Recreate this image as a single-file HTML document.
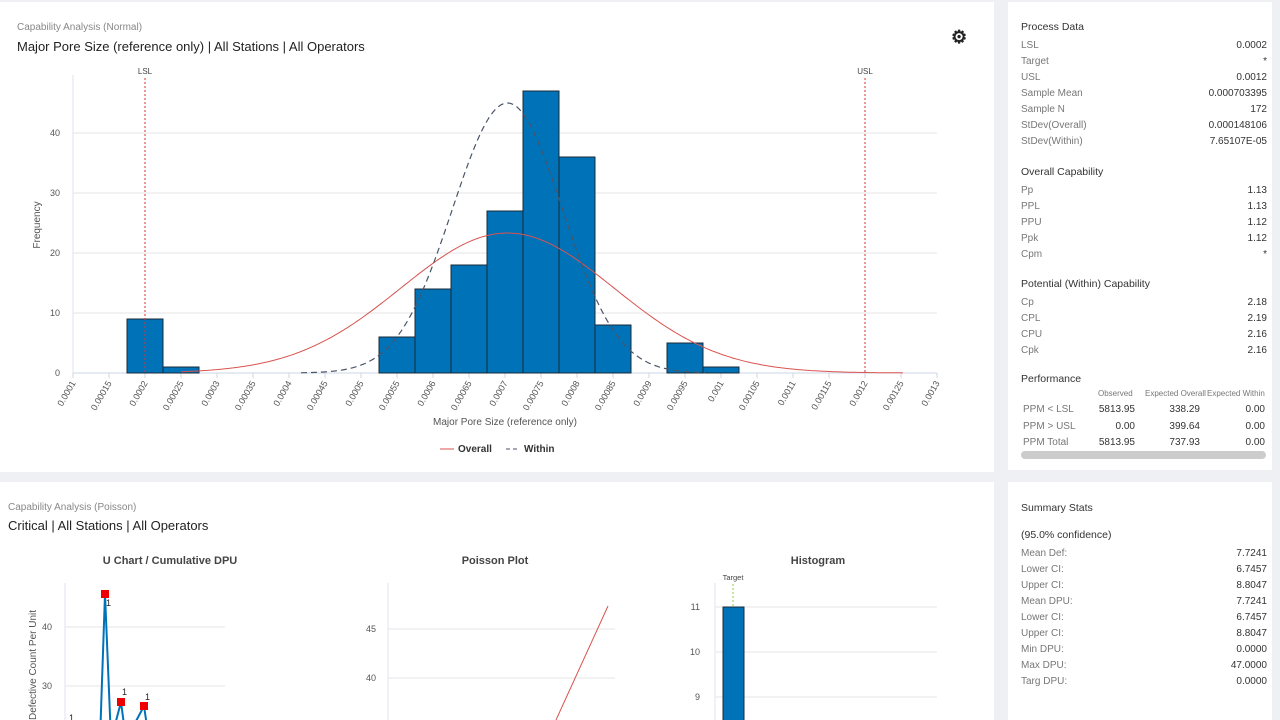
<!DOCTYPE html>
<html><head><meta charset="utf-8">
<style>
body{margin:0;width:1280px;height:720px;overflow:hidden;background:#eef0f3;font-family:"Liberation Sans",sans-serif;position:relative}
.card{position:absolute;background:#fff}
.sub{position:absolute;font-size:10px;color:#888}
.ttl{position:absolute;font-size:13px;color:#222}
.side{font-size:10px;color:#777}
.row{display:flex;justify-content:space-between;height:16px;line-height:16px}
.row b{font-weight:normal;color:#333}
.hd{color:#333;font-size:10.5px;margin:16px 0 5px}
</style></head><body>
<div class="card" style="left:0;top:2px;width:994px;height:470px"></div>
<div class="card" style="left:1008px;top:2px;width:264px;height:468px"></div>
<div class="card" style="left:0;top:482px;width:994px;height:238px"></div>
<div class="card" style="left:1008px;top:482px;width:264px;height:238px"></div>

<div class="sub" style="left:17px;top:22px">Capability Analysis (Normal)</div>
<div class="ttl" style="left:17px;top:39px">Major Pore Size (reference only) | All Stations | All Operators</div>
<div style="position:absolute;left:951px;top:28px;font-size:18px;color:#222;line-height:18px;font-weight:bold">⚙</div>

<div class="sub" style="left:8px;top:502px">Capability Analysis (Poisson)</div>
<div class="ttl" style="left:8px;top:518px">Critical | All Stations | All Operators</div>

<svg id="s" width="1280" height="720" style="position:absolute;left:0;top:0" font-family="Liberation Sans, sans-serif"></svg>

<div class="side" style="position:absolute;left:1021px;top:21px;width:246px">
<div class="hd" style="margin-top:0">Process Data</div>
<div class="row">LSL<b>0.0002</b></div>
<div class="row">Target<b>*</b></div>
<div class="row">USL<b>0.0012</b></div>
<div class="row">Sample Mean<b>0.000703395</b></div>
<div class="row">Sample N<b>172</b></div>
<div class="row">StDev(Overall)<b>0.000148106</b></div>
<div class="row">StDev(Within)<b>7.65107E-05</b></div>
<div class="hd">Overall Capability</div>
<div class="row">Pp<b>1.13</b></div>
<div class="row">PPL<b>1.13</b></div>
<div class="row">PPU<b>1.12</b></div>
<div class="row">Ppk<b>1.12</b></div>
<div class="row">Cpm<b>*</b></div>
<div class="hd" style="margin-top:15px">Potential (Within) Capability</div>
<div class="row">Cp<b>2.18</b></div>
<div class="row">CPL<b>2.19</b></div>
<div class="row">CPU<b>2.16</b></div>
<div class="row">Cpk<b>2.16</b></div>
<div class="hd" style="margin-top:14px;margin-bottom:4px">Performance</div>
<div style="position:relative;height:64px;font-size:8px;white-space:nowrap">
<span style="position:absolute;left:77px;top:0">Observed</span>
<span style="position:absolute;left:124px;top:0">Expected Overall</span>
<span style="position:absolute;left:186px;top:0">Expected Within</span>
<div style="position:absolute;top:15px;left:2px;width:242px;font-size:10px">
<div style="position:relative;height:16.5px">PPM &lt; LSL<b style="position:absolute;right:130px;font-weight:normal;color:#333">5813.95</b><b style="position:absolute;right:65px;font-weight:normal;color:#333">338.29</b><b style="position:absolute;right:0;font-weight:normal;color:#333">0.00</b></div>
<div style="position:relative;height:16.5px">PPM &gt; USL<b style="position:absolute;right:130px;font-weight:normal;color:#333">0.00</b><b style="position:absolute;right:65px;font-weight:normal;color:#333">399.64</b><b style="position:absolute;right:0;font-weight:normal;color:#333">0.00</b></div>
<div style="position:relative;height:16.5px">PPM Total<b style="position:absolute;right:130px;font-weight:normal;color:#333">5813.95</b><b style="position:absolute;right:65px;font-weight:normal;color:#333">737.93</b><b style="position:absolute;right:0;font-weight:normal;color:#333">0.00</b></div>
</div></div>
<div style="height:8px;background:#ccc;border-radius:4px;width:245px;margin-top:-2px"></div>
</div>

<div class="side" style="position:absolute;left:1021px;top:502px;width:246px">
<div class="hd" style="margin-top:0">Summary Stats</div>
<div class="hd" style="margin-top:15px">(95.0% confidence)</div>
<div class="row">Mean Def:<b>7.7241</b></div>
<div class="row">Lower CI:<b>6.7457</b></div>
<div class="row">Upper CI:<b>8.8047</b></div>
<div class="row">Mean DPU:<b>7.7241</b></div>
<div class="row">Lower CI:<b>6.7457</b></div>
<div class="row">Upper CI:<b>8.8047</b></div>
<div class="row">Min DPU:<b>0.0000</b></div>
<div class="row">Max DPU:<b>47.0000</b></div>
<div class="row">Targ DPU:<b>0.0000</b></div>
</div>

<script>
var s=document.getElementById('s'),h='';
function X(v){return 73+(v-0.0001)/0.00005*36}
function Y(c){return 373-c*6}
[10,20,30,40].forEach(function(c){h+='<line x1="73" x2="937" y1="'+Y(c)+'" y2="'+Y(c)+'" stroke="#e6e6e6"/>';});
[0,10,20,30,40].forEach(function(c){h+='<text x="60" y="'+(Y(c)+3)+'" font-size="9" fill="#555" text-anchor="end">'+c+'</text>';});
h+='<line x1="73" x2="73" y1="75" y2="373" stroke="#dde3ee"/>';
h+='<line x1="73" x2="937" y1="373" y2="373" stroke="#cdd5e6"/>';
var labs=['0.0001','0.00015','0.0002','0.00025','0.0003','0.00035','0.0004','0.00045','0.0005','0.00055','0.0006','0.00065','0.0007','0.00075','0.0008','0.00085','0.0009','0.00095','0.001','0.00105','0.0011','0.00115','0.0012','0.00125','0.0013'];
labs.forEach(function(l,i){var x=73+i*36;h+='<line x1="'+x+'" x2="'+x+'" y1="373" y2="378" stroke="#cdd5e6"/><text transform="translate('+(x+3)+',383) rotate(-60)" font-size="9" fill="#555" text-anchor="end">'+l+'</text>';});
var bars=[[0.0002,9],[0.00025,1],[0.00055,6],[0.0006,14],[0.00065,18],[0.0007,27],[0.00075,47],[0.0008,36],[0.00085,8],[0.00095,5],[0.001,1]];
bars.forEach(function(b){var x=X(b[0])-18;h+='<rect x="'+x+'" y="'+Y(b[1])+'" width="36" height="'+(b[1]*6)+'" fill="#0072b8" stroke="#1a2a3a" stroke-width="1"/>';});
function curve(m,sd,pk,x0,x1){var p='';for(var x=x0;x<=x1;x+=2){var z=(x-X(m))/(sd/0.00005*36);p+=(p?'L':'M')+x+','+(373-pk*Math.exp(-z*z/2)).toFixed(1);}return p;}
h+='<path d="'+curve(0.000703395,0.000148106,140,181,903)+'" fill="none" stroke="#d9534f" stroke-width="1"/>';
h+='<path d="'+curve(0.000703395,0.0000765107,270,301,705)+'" fill="none" stroke="#4a5568" stroke-width="1.2" stroke-dasharray="6,4"/>';
h+='<line x1="145" x2="145" y1="78" y2="373" stroke="#d33" stroke-dasharray="2,2"/><text x="145" y="74" font-size="8" fill="#444" text-anchor="middle">LSL</text>';
h+='<line x1="865" x2="865" y1="78" y2="373" stroke="#d33" stroke-dasharray="2,2"/><text x="865" y="74" font-size="8" fill="#444" text-anchor="middle">USL</text>';
h+='<text transform="translate(40,225) rotate(-90)" font-size="10" fill="#555" text-anchor="middle">Frequency</text>';
h+='<text x="505" y="425" font-size="10" fill="#555" text-anchor="middle">Major Pore Size (reference only)</text>';
h+='<line x1="440" x2="454" y1="449" y2="449" stroke="#d9534f"/><text x="458" y="452" font-size="10" fill="#333" font-weight="bold">Overall</text>';
h+='<line x1="506" x2="520" y1="449" y2="449" stroke="#4a5568" stroke-dasharray="4,3"/><text x="524" y="452" font-size="10" fill="#333" font-weight="bold">Within</text>';
h+='<text x="170" y="564" font-size="11" fill="#444" font-weight="bold" text-anchor="middle">U Chart / Cumulative DPU</text>';
h+='<text x="495" y="564" font-size="11" fill="#444" font-weight="bold" text-anchor="middle">Poisson Plot</text>';
h+='<text x="818" y="564" font-size="11" fill="#444" font-weight="bold" text-anchor="middle">Histogram</text>';
h+='<line x1="65" x2="65" y1="583" y2="720" stroke="#dde3ee"/>';
[[627,'40'],[686,'30']].forEach(function(g){h+='<line x1="65" x2="225" y1="'+g[0]+'" y2="'+g[0]+'" stroke="#e6e6e6"/><text x="52" y="'+(g[0]+3)+'" font-size="9" fill="#555" text-anchor="end">'+g[1]+'</text>';});
h+='<text transform="translate(36,720) rotate(-90)" font-size="10" fill="#555">Defective Count Per Unit</text>';
h+='<path d="M100,740 L105,594 L111,740 L121,702 L126,740 L144,706 L149,740" fill="none" stroke="#0072b8" stroke-width="2"/>';
[[105,594],[121,702],[144,706]].forEach(function(p){h+='<rect x="'+(p[0]-4)+'" y="'+(p[1]-4)+'" width="8" height="8" fill="#e00"/>';});
h+='<text x="106" y="606" font-size="9" fill="#222">1</text><text x="122" y="695" font-size="9" fill="#222">1</text><text x="145" y="700" font-size="9" fill="#222">1</text><text x="69" y="721" font-size="9" fill="#222">1</text>';
h+='<line x1="388" x2="388" y1="583" y2="720" stroke="#dde3ee"/>';
[[629,'45'],[678,'40']].forEach(function(g){h+='<line x1="388" x2="615" y1="'+g[0]+'" y2="'+g[0]+'" stroke="#e6e6e6"/><text x="376" y="'+(g[0]+3)+'" font-size="9" fill="#555" text-anchor="end">'+g[1]+'</text>';});
h+='<line x1="608" y1="606" x2="556" y2="720" stroke="#d9534f"/>';
h+='<line x1="715" x2="715" y1="583" y2="720" stroke="#dde3ee"/>';
[[607,'11'],[652,'10'],[697,'9']].forEach(function(g){h+='<line x1="715" x2="937" y1="'+g[0]+'" y2="'+g[0]+'" stroke="#e6e6e6"/><text x="700" y="'+(g[0]+3)+'" font-size="9" fill="#555" text-anchor="end">'+g[1]+'</text>';});
h+='<line x1="733" x2="733" y1="584" y2="607" stroke="#8c4" stroke-dasharray="2,2"/><text x="733" y="580" font-size="7.5" fill="#444" text-anchor="middle">Target</text>';
h+='<rect x="723" y="607" width="21" height="120" fill="#0072b8" stroke="#1a2a3a"/>';
s.innerHTML=h;
</script>
</body></html>
